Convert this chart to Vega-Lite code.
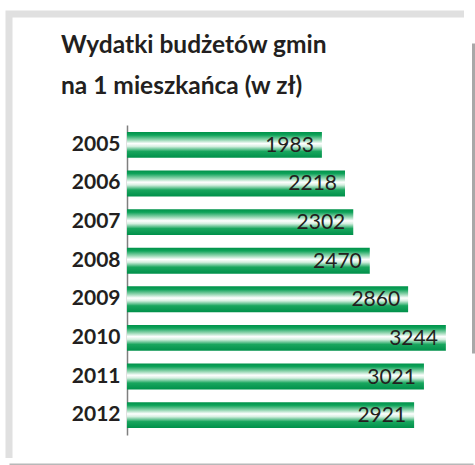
{
  "$schema": "https://vega.github.io/schema/vega-lite/v6.json",
  "width": 464,
  "height": 450,
  "autosize": "none",
  "padding": {"left": 9, "top": 14, "right": 2, "bottom": 1},
  "background": "white",
  "config": {
    "view": {"stroke": "#e0e0e0", "strokeWidth": 7, "strokeDash": [455, 929, 444], "fill": "white"}
  },
  "title": {
    "text": ["Wydatki budżetów gmin", "na 1 mieszkańca (w zł)"],
    "font": "Lato",
    "fontSize": 24.5,
    "fontWeight": "bold",
    "color": "#231f20",
    "anchor": "start",
    "frame": "group",
    "baseline": "alphabetic",
    "offset": 0,
    "dx": 52,
    "dy": 104,
    "lineHeight": 41
  },
  "data": {
    "values": [
      {"year": "2005", "value": 1983},
      {"year": "2006", "value": 2218},
      {"year": "2007", "value": 2302},
      {"year": "2008", "value": 2470},
      {"year": "2009", "value": 2860},
      {"year": "2010", "value": 3244},
      {"year": "2011", "value": 3021},
      {"year": "2012", "value": 2921}
    ]
  },
  "encoding": {
    "y": {
      "field": "year",
      "type": "ordinal",
      "scale": {"range": [111, 421], "paddingInner": 0.33, "paddingOuter": 0.18},
      "axis": {
        "orient": "left",
        "offset": -118,
        "title": null,
        "ticks": false,
        "grid": false,
        "domainColor": "#7f7f7f",
        "domainWidth": 1.5,
        "labelFont": "Lato",
        "labelFontSize": 21,
        "labelFontWeight": "bold",
        "labelColor": "#231f20",
        "labelPadding": 7
      }
    }
  },
  "layer": [
    {
      "mark": {
        "type": "bar",
        "color": {
          "gradient": "linear",
          "x1": 0, "y1": 0, "x2": 0, "y2": 1,
          "stops": [
            {"offset": 0, "color": "#00924a"},
            {"offset": 0.12, "color": "#0fa35a"},
            {"offset": 0.3, "color": "#8fd4ae"},
            {"offset": 0.45, "color": "#ffffff"},
            {"offset": 0.56, "color": "#d5efe0"},
            {"offset": 0.75, "color": "#19a65e"},
            {"offset": 1, "color": "#00904a"}
          ]
        }
      },
      "encoding": {
        "x": {
          "field": "value",
          "type": "quantitative",
          "scale": {"domain": [-1200, 3520], "nice": false, "zero": false},
          "axis": {
            "title": null,
            "labels": false,
            "ticks": false,
            "grid": true,
            "values": [3520],
            "gridColor": "#a8a8a8",
            "gridWidth": 3,
            "domainColor": "#b8b8b8",
            "domainWidth": 2
          }
        },
        "x2": {"datum": 0}
      }
    },
    {
      "mark": {
        "type": "text",
        "align": "right",
        "baseline": "middle",
        "dx": -8,
        "dy": 1,
        "font": "Lato",
        "fontSize": 21,
        "color": "#231f20"
      },
      "encoding": {
        "x": {"field": "value", "type": "quantitative"},
        "text": {"field": "value", "type": "quantitative", "format": "d"}
      }
    }
  ]
}
